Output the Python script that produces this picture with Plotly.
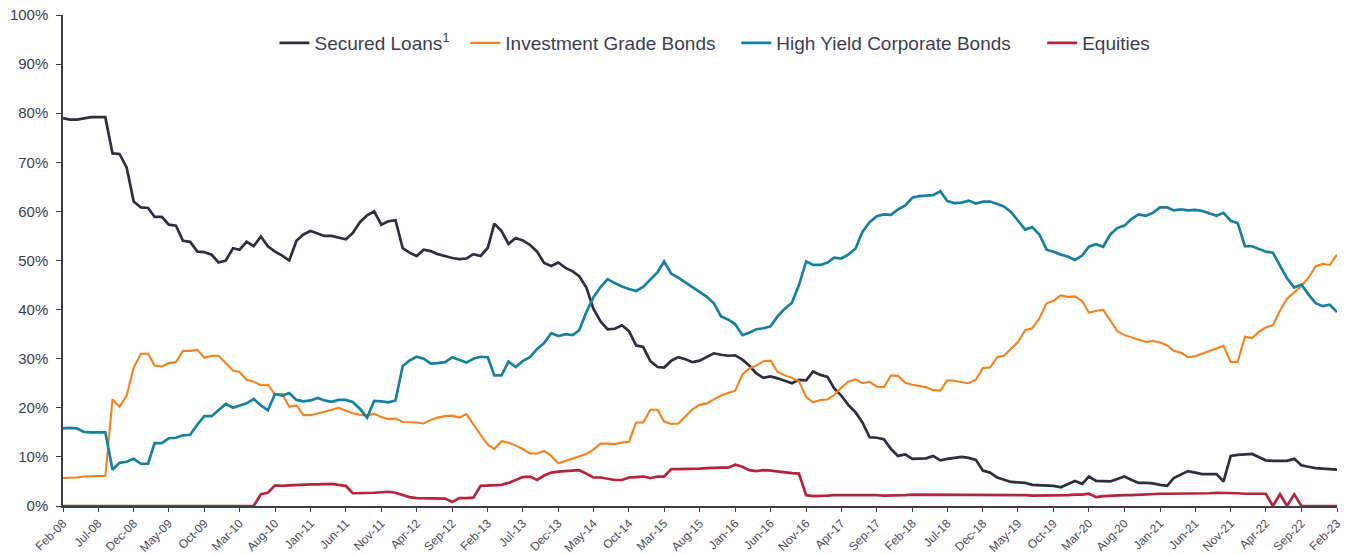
import pandas as pd
import plotly.graph_objects as go

months = pd.date_range("2008-02-01", periods=181, freq="MS")

secured_loans = [
    79.0, 78.7, 78.7, 79.0, 79.2, 79.2, 79.2, 71.8, 71.7, 68.9,
    62.0, 60.8, 60.7, 58.9, 58.9, 57.3, 57.1, 54.0, 53.8, 51.8,
    51.7, 51.2, 49.6, 50.0, 52.5, 52.2, 53.8, 52.9, 54.9, 52.9,
    51.8, 51.0, 50.0, 54.0, 55.3, 56.0, 55.5, 55.0, 55.0, 54.6,
    54.3, 55.6, 57.8, 59.2, 60.0, 57.3, 58.0, 58.2, 52.5, 51.6,
    50.9, 52.2, 51.9, 51.3, 50.9, 50.5, 50.3, 50.4, 51.3, 50.9,
    52.6, 57.5, 56.0, 53.4, 54.6, 54.1, 53.2, 51.8, 49.5, 48.9,
    49.6, 48.5, 47.8, 46.8, 44.5, 40.2, 37.6, 36.0, 36.1, 36.8,
    35.6, 32.7, 32.4, 29.5, 28.3, 28.2, 29.6, 30.3, 29.9, 29.3,
    29.6, 30.4, 31.1, 30.8, 30.6, 30.7, 29.8, 28.6, 27.0, 26.1,
    26.4, 26.0, 25.5, 25.0, 25.7, 25.6, 27.4, 26.7, 26.3, 24.0,
    22.5, 20.6, 19.1, 17.0, 14.0, 13.9, 13.6, 11.6, 10.2, 10.5,
    9.6, 9.7, 9.7, 10.2, 9.3, 9.6, 9.8, 10.0, 9.8, 9.4,
    7.2, 6.8, 5.8, 5.3, 4.9, 4.8, 4.7, 4.3, 4.2, 4.2,
    4.1, 3.8, 4.5, 5.1, 4.5, 6.0, 5.1, 5.1, 5.0, 5.5,
    6.0, 5.3, 4.7, 4.7, 4.6, 4.3, 4.1, 5.7, 6.5, 7.1,
    6.8, 6.5, 6.5, 6.5, 5.0, 10.2, 10.4, 10.5, 10.6, 10.0,
    9.3, 9.2, 9.2, 9.2, 9.6, 8.3, 8.0, 7.7, 7.6, 7.5,
    7.4,
]

investment_grade = [
    5.7, 5.7, 5.8, 6.0, 6.1, 6.1, 6.1, 21.7, 20.2, 22.5,
    28.2, 31.0, 31.0, 28.6, 28.4, 29.1, 29.3, 31.6, 31.6, 31.8,
    30.2, 30.6, 30.6, 29.1, 27.6, 27.3, 25.7, 25.3, 24.6, 24.7,
    22.7, 22.8, 20.2, 20.5, 18.5, 18.5, 18.8, 19.2, 19.6, 20.0,
    19.4, 18.9, 18.6, 18.4, 18.8, 18.1, 17.7, 17.8, 17.1, 17.1,
    17.0, 16.8, 17.5, 18.0, 18.3, 18.4, 18.0, 18.7, 16.5, 14.5,
    12.5, 11.6, 13.2, 12.9, 12.3, 11.6, 10.7, 10.7, 11.2, 10.2,
    8.7, 9.2, 9.8, 10.2, 10.6, 11.5, 12.7, 12.7, 12.6, 12.9,
    13.1, 17.0, 17.0, 19.6, 19.6, 17.2, 16.7, 16.8, 18.3, 19.7,
    20.6, 20.9, 21.7, 22.5, 23.0, 23.5, 26.8, 28.0, 28.6, 29.5,
    29.6, 27.3, 26.6, 26.1, 25.4, 22.2, 21.1, 21.6, 21.7, 22.6,
    24.1, 25.3, 25.8, 25.0, 25.3, 24.3, 24.2, 26.6, 26.5, 25.1,
    24.7, 24.4, 24.2, 23.6, 23.5, 25.6, 25.5, 25.2, 25.0, 25.7,
    28.1, 28.2, 30.3, 30.6, 32.0, 33.4, 35.8, 36.2, 38.2, 41.3,
    41.8, 42.9, 42.6, 42.7, 41.7, 39.4, 39.7, 40.0, 37.8, 35.6,
    34.8, 34.3, 33.9, 33.4, 33.6, 33.3, 32.7, 31.6, 31.2, 30.3,
    30.5, 31.0, 31.6, 32.0, 32.6, 29.3, 29.4, 34.5, 34.2, 35.4,
    36.4, 36.8, 39.8, 42.2, 43.5, 44.8, 46.5, 48.8, 49.3, 49.1,
    51.2,
]

high_yield = [
    15.8, 15.9, 15.8, 15.1, 15.0, 15.0, 15.0, 7.4, 8.8, 9.0,
    9.6, 8.6, 8.6, 12.8, 12.8, 13.8, 13.9, 14.4, 14.5, 16.6,
    18.3, 18.3, 19.6, 20.8, 20.0, 20.5, 20.9, 21.8, 20.5, 19.5,
    22.8, 22.5, 23.0, 21.6, 21.3, 21.5, 22.0, 21.5, 21.2, 21.6,
    21.6, 21.2, 19.8, 18.0, 21.4, 21.3, 21.1, 21.5, 28.5, 29.6,
    30.4, 30.0, 29.0, 29.1, 29.3, 30.3, 29.8, 29.2, 30.0, 30.4,
    30.3, 26.6, 26.6, 29.4, 28.3, 29.5, 30.3, 32.0, 33.2, 35.2,
    34.6, 35.0, 34.8, 35.8, 39.5, 42.5, 44.6, 46.2, 45.4, 44.7,
    44.2, 43.8, 44.6, 46.2, 47.6, 49.8, 47.3, 46.5, 45.5, 44.6,
    43.5, 42.6, 41.3, 38.6, 38.0, 37.0, 34.8, 35.3, 36.0, 36.2,
    36.6, 38.6, 40.2, 41.4, 45.0, 49.8, 49.1, 49.1, 49.6, 50.6,
    50.4, 51.2, 52.4, 55.8, 57.8, 59.0, 59.4, 59.3, 60.4, 61.2,
    62.8, 63.1, 63.2, 63.3, 64.1, 62.1, 61.7, 61.8, 62.2, 61.6,
    62.0, 62.0, 61.5, 61.0, 59.9, 58.2, 56.3, 56.8, 55.3, 52.2,
    51.8, 51.2, 50.8, 50.1, 51.0, 52.8, 53.3, 52.8, 55.3, 56.6,
    57.1, 58.5, 59.4, 59.1, 59.7, 60.8, 60.8, 60.2, 60.4, 60.2,
    60.3, 60.1, 59.6, 59.1, 59.7, 58.1, 57.6, 52.9, 52.9, 52.3,
    51.8, 51.6, 49.0, 46.4, 44.5, 45.1, 43.1, 41.3, 40.7, 41.0,
    39.5,
]

equities = [
    0, 0, 0, 0, 0, 0, 0, 0, 0, 0,
    0, 0, 0, 0, 0, 0, 0, 0, 0, 0,
    0, 0, 0, 0, 0, 0, 0, 0, 2.4, 2.7,
    4.2, 4.1, 4.2, 4.3, 4.4, 4.4, 4.4, 4.5, 4.5, 4.3,
    4.1, 2.6, 2.6, 2.6, 2.7, 2.8, 2.9, 2.7, 2.3, 1.8,
    1.6, 1.6, 1.6, 1.6, 1.5, 0.8, 1.6, 1.6, 1.7, 4.1,
    4.2, 4.2, 4.3, 4.7, 5.3, 5.9, 6.0, 5.3, 6.2, 6.8,
    7.0, 7.1, 7.2, 7.3, 6.6, 5.8, 5.8, 5.5, 5.3, 5.3,
    5.8, 5.9, 6.0, 5.7, 6.0, 6.0, 7.5, 7.5, 7.5, 7.5,
    7.6, 7.7, 7.8, 7.8, 7.8, 8.4, 8.0, 7.3, 7.1, 7.3,
    7.2, 7.0, 6.9, 6.7, 6.6, 2.2, 2.0, 2.0, 2.1, 2.2,
    2.2, 2.3, 2.3, 2.3, 2.2, 2.2, 2.1, 2.1, 2.2, 2.2,
    2.3, 2.3, 2.3, 2.3, 2.3, 2.3, 2.3, 2.3, 2.3, 2.3,
    2.3, 2.3, 2.3, 2.3, 2.3, 2.2, 2.2, 2.1, 2.1, 2.1,
    2.1, 2.2, 2.2, 2.3, 2.3, 2.5, 1.8, 2.0, 2.1, 2.1,
    2.2, 2.2, 2.3, 2.3, 2.4, 2.5, 2.5, 2.5, 2.5, 2.6,
    2.6, 2.6, 2.6, 2.7, 2.7, 2.6, 2.6, 2.5, 2.5, 2.5,
    2.5, 0, 2.4, 0, 2.4, 0, 0, 0, 0, 0,
    0,
]

NB = "\u00a0"
series_names = ["Secured Loans<sup>1</sup>" + NB * 2,
                "Investment Grade Bonds" + NB * 3,
                "High Yield Corporate Bonds" + NB * 5,
                "Equities"]
series_values = [secured_loans, investment_grade, high_yield, equities]
series_colors = ["#2c2f3d", "#f5821f", "#17809f", "#b7233c"]
series_widths = [2.7, 2.1, 2.7, 2.7]

for v in series_values:
    assert len(v) == len(months), len(v)

fig = go.Figure()
for name, vals, col, w in zip(series_names, series_values, series_colors, series_widths):
    fig.add_trace(go.Scatter(x=months, y=vals, mode="lines", name=name,
                             line=dict(color=col, width=w)))

font_family = "Liberation Sans, Arial, sans-serif"
text_col = "#3b3e50"
axis_col = "#3c3d48"

fig.update_layout(
    width=1352, height=555,
    margin=dict(l=63, r=15, t=15, b=49, autoexpand=False),
    paper_bgcolor="white", plot_bgcolor="white",
    font=dict(family=font_family, color=text_col),
    showlegend=True,
    legend=dict(orientation="h", x=0.166, xanchor="left", y=0.943, yanchor="middle",
                font=dict(size=19, color=text_col), bgcolor="rgba(0,0,0,0)",
                itemwidth=30, traceorder="normal"),
)
fig.update_xaxes(
    range=[months[0], months[-1]],
    tick0=months[0], dtick="M5", tickformat="%b-%y",
    tickangle=-45, tickfont=dict(size=12, color="#4a4b58"),
    showgrid=False, zeroline=False, automargin=False,
    showline=True, linecolor=axis_col, linewidth=1.5,
    ticks="outside", ticklen=4, tickcolor=axis_col, tickwidth=1,
    layer="below traces",
)
fig.update_yaxes(
    range=[0, 100], dtick=10, ticksuffix="%",
    tickfont=dict(size=15, color=text_col),
    showgrid=False, zeroline=False, automargin=False,
    showline=True, linecolor=axis_col, linewidth=1.5,
    ticks="outside", ticklen=5, tickcolor=axis_col, tickwidth=1,
    ticklabelstandoff=5,
    layer="below traces",
)

fig.write_html("out.html")
